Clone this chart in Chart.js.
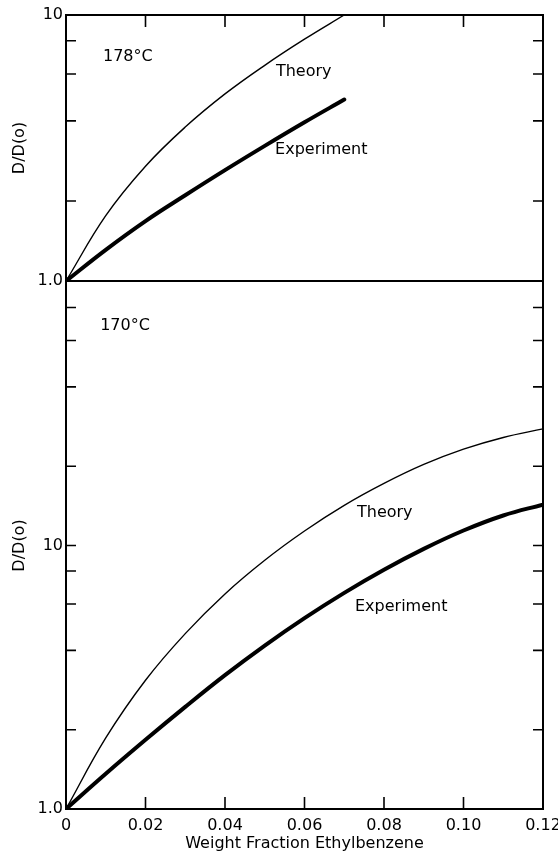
<!DOCTYPE html>
<html>
<head>
<meta charset="utf-8">
<script src="https://cdn.jsdelivr.net/npm/chart.js@4.4.0/dist/chart.umd.min.js"></script>
<style>
  body { margin: 0; background: #fff; }
  #wrap { position: relative; width: 558px; height: 862px; }
  .panel { position: absolute; left: 0; width: 558px; }
  #p178 { top: 0; height: 300px; }
  #p170 { top: 272px; height: 590px; }
</style>
</head>
<body>
<div id="wrap">
  <div class="panel" id="p178"><canvas id="c178"></canvas></div>
  <div class="panel" id="p170"><canvas id="c170"></canvas></div>
</div>
<script>
// weight fraction ethylbenzene
var xTop = [0, 0.01, 0.02, 0.03, 0.04, 0.05, 0.06, 0.07];
var xBot = [0, 0.01, 0.02, 0.03, 0.04, 0.05, 0.06, 0.07, 0.08, 0.09, 0.10, 0.11, 0.12];

// D/D(o) at 178 C
var theory178 = [1.0, 1.76, 2.70, 3.79, 5.05, 6.47, 8.11, 10.0];
var exp178    = [1.0, 1.31, 1.68, 2.10, 2.61, 3.22, 3.95, 4.81];

// D/D(o) at 170 C
var theory170 = [1.0, 1.86, 3.08, 4.63, 6.55, 8.79, 11.35, 14.2, 17.2, 20.3, 23.2, 25.7, 27.7];
var exp170    = [1.0, 1.36, 1.83, 2.44, 3.22, 4.17, 5.30, 6.61, 8.09, 9.71, 11.4, 13.0, 14.3];

// tick marks
var xTicks = [0, 0.02, 0.04, 0.06, 0.08, 0.10, 0.12];
var xTickLabels = ['0', '0.02', '0.04', '0.06', '0.08', '0.10', '0.12'];
var yTicksTop = [1, 2, 4, 6, 8, 10];
var yTicksBot = [1, 2, 4, 6, 8, 10, 20, 40, 60, 80, 100];

Chart.defaults.font.family = '"DejaVu Sans", sans-serif';
Chart.defaults.font.size = 16;
Chart.defaults.color = '#000';

function pts(xs, ys) {
    return xs.map(function (x, i) { return { x: x, y: ys[i] }; });
}

function yLabel(v) {
    if (v === 1) return '1.0';
    if (v === 10) return '10';
    return '';
}

// border + inward ticks + curve labels
var framePlugin = {
    id: 'frame',
    afterDraw: function (chart, args, opts) {
        var ctx = chart.ctx, a = chart.chartArea;
        var xs = chart.scales.x, ys = chart.scales.y;
        ctx.save();
        ctx.strokeStyle = '#000';
        ctx.lineWidth = 2;
        ctx.beginPath();
        ctx.moveTo(a.left, a.top);
        ctx.lineTo(a.left, a.bottom);
        ctx.moveTo(a.right, a.top);
        ctx.lineTo(a.right, a.bottom);
        if (opts.topLine) { ctx.moveTo(a.left - 1, a.top); ctx.lineTo(a.right + 1, a.top); }
        if (opts.bottomLine) { ctx.moveTo(a.left - 1, a.bottom); ctx.lineTo(a.right + 1, a.bottom); }
        ctx.stroke();

        ctx.lineWidth = 1.6;
        ctx.beginPath();
        opts.yTicks.forEach(function (v) {
            var py = ys.getPixelForValue(v);
            if (v === ys.min || v === ys.max) return;
            ctx.moveTo(a.left, py); ctx.lineTo(a.left + 10, py);
            ctx.moveTo(a.right, py); ctx.lineTo(a.right - 10, py);
        });
        xTicks.forEach(function (v, i) {
            if (i === 0 || i === xTicks.length - 1) return;
            var px = xs.getPixelForValue(v);
            if (opts.xTickEdge === 'top') { ctx.moveTo(px, a.top); ctx.lineTo(px, a.top + 12); }
            else { ctx.moveTo(px, a.bottom); ctx.lineTo(px, a.bottom - 12); }
        });
        ctx.stroke();

        ctx.fillStyle = '#000';
        ctx.font = '16px "DejaVu Sans", sans-serif';
        ctx.textBaseline = 'middle';
        ctx.textAlign = 'left';
        opts.notes.forEach(function (n) {
            ctx.fillText(n.text, xs.getPixelForValue(n.x), ys.getPixelForValue(n.y));
        });
        ctx.restore();
    }
};

function makeChart(id, xs, theory, exp, yMax, yTicks, showX, frameOpts, pad) {
    return new Chart(document.getElementById(id), {
        type: 'line',
        data: {
            datasets: [
                { label: 'Theory', data: pts(xs, theory), borderColor: '#000', borderWidth: 1.4,
                  pointRadius: 0, tension: 0.4, fill: false },
                { label: 'Experiment', data: pts(xs, exp), borderColor: '#000', borderWidth: 4,
                  borderCapStyle: 'round', pointRadius: 0, tension: 0.4, fill: false }
            ]
        },
        options: {
            responsive: true,
            maintainAspectRatio: false,
            animation: false,
            events: [],
            layout: { padding: pad },
            plugins: { legend: { display: false }, tooltip: { enabled: false }, frame: frameOpts },
            scales: {
                x: {
                    type: 'linear', min: 0, max: 0.12,
                    display: showX,
                    grid: { display: false, drawTicks: false },
                    border: { display: false },
                    afterBuildTicks: function (s) { s.ticks = xTicks.map(function (v) { return { value: v }; }); },
                    afterFit: function (s) {
                        s.paddingLeft = 0; s.paddingRight = 0;
                        if (showX) s.height = 48;
                    },
                    ticks: {
                        padding: 7, autoSkip: false, maxRotation: 0,
                        callback: function (v, i) { return xTickLabels[i]; }
                    },
                    title: { display: showX, text: 'Weight Fraction Ethylbenzene', padding: { top: 4, bottom: 4 } }
                },
                y: {
                    type: 'logarithmic', min: 1, max: yMax,
                    grid: { display: false, drawTicks: false },
                    border: { display: false },
                    afterBuildTicks: function (s) { s.ticks = yTicks.map(function (v) { return { value: v }; }); },
                    afterFit: function (s) { s.width = 60; s.paddingTop = 0; s.paddingBottom = 0; },
                    ticks: { padding: 3, autoSkip: false, callback: yLabel },
                    title: { display: true, text: 'D/D(o)', padding: { top: 4, bottom: 4 } }
                }
            }
        },
        plugins: [framePlugin]
    });
}

makeChart('c178', xTop, theory178, exp178, 10, yTicksTop, false, {
    topLine: true, bottomLine: true, xTickEdge: 'top', yTicks: yTicksTop,
    notes: [
        { text: '178°C', x: 0.0093, y: 6.95 },
        { text: 'Theory', x: 0.0528, y: 6.1 },
        { text: 'Experiment', x: 0.0526, y: 3.11 }
    ]
}, { left: 6, right: 15, top: 15, bottom: 19 });

makeChart('c170', xBot, theory170, exp170, 100, yTicksBot, true, {
    topLine: false, bottomLine: true, xTickEdge: 'bottom', yTicks: yTicksBot,
    notes: [
        { text: '170°C', x: 0.0086, y: 68 },
        { text: 'Theory', x: 0.0732, y: 13.3 },
        { text: 'Experiment', x: 0.0727, y: 5.86 }
    ]
}, { left: 6, right: 15, top: 10, bottom: 5 });
</script>
</body>
</html>
